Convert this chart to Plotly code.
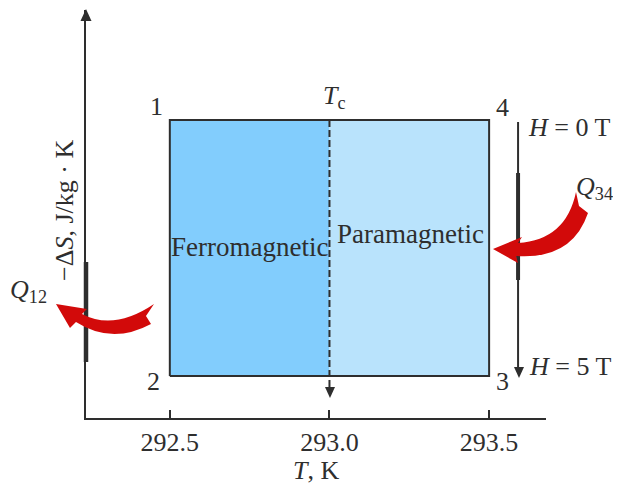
import plotly.graph_objects as go

# ---- data ----
T_ticks = [292.5, 293.0, 293.5]
T_tick_labels = ["292.5", "293.0", "293.5"]
T_left, T_c, T_right = 292.5, 293.0, 293.5
S_low, S_high = 42, 298          # arbitrary entropy-change levels (no y ticks)
regions = ["Ferromagnetic", "Paramagnetic"]
state_labels = ["1", "2", "3", "4"]
field_labels = ["<i>H</i> = 0 T", "<i>H</i> = 5 T"]
heat_labels = ["<i>Q</i><sub>12</sub>", "<i>Q</i><sub>34</sub>"]

W, H = 621, 486
OFF = 8                               # page body margin
L, TOP = 86 - OFF, 10 - OFF
R, B = W - 546 + OFF, H - 418 + OFF
x_per_px = 0.5 / 160.0
x_min = T_left - (170 - 86) * x_per_px
x_max = T_right + (546 - 489) * x_per_px
y_min, y_max = 0, 408

def X(px):
    return T_left + (px - 170) * x_per_px

def Y(py):
    return 418 - py

def PX(px):
    return (px - 86) / 460.0

def PY(py):
    return (418 - py) / 408.0

INK = "#2e2e2e"
RED = "#d20a0a"
DARKRED = "#b80404"
FONT = "Liberation Serif"

fig = go.Figure()

# rectangles
fig.add_trace(go.Scatter(x=[T_left, T_c, T_c, T_left, T_left], y=[S_low, S_low, S_high, S_high, S_low],
                         fill="toself", fillcolor="#82cdfd", line=dict(width=0), mode="lines",
                         hoverinfo="skip", showlegend=False))
fig.add_trace(go.Scatter(x=[T_c, T_right, T_right, T_c, T_c], y=[S_low, S_low, S_high, S_high, S_low],
                         fill="toself", fillcolor="#b9e3fc", line=dict(width=0), mode="lines",
                         hoverinfo="skip", showlegend=False))
fig.add_trace(go.Scatter(x=[T_left, T_right, T_right, T_left, T_left], y=[S_low, S_low, S_high, S_high, S_low],
                         mode="lines", line=dict(color=INK, width=2), hoverinfo="skip", showlegend=False))
# Curie temperature dashed line
fig.add_trace(go.Scatter(x=[T_c, T_c], y=[S_high, Y(388)], mode="lines",
                         line=dict(color=INK, width=2, dash="7px,3px"), hoverinfo="skip", showlegend=False))
# right field line
fig.add_trace(go.Scatter(x=[X(519), X(519)], y=[Y(122), Y(368)], mode="lines",
                         line=dict(color=INK, width=2), hoverinfo="skip", showlegend=False))
fig.add_trace(go.Scatter(x=[X(519), X(519)], y=[Y(173), Y(280)], mode="lines",
                         line=dict(color=INK, width=4), hoverinfo="skip", showlegend=False))

def path(pts, close=True):
    s = ""
    for cmd, coords in pts:
        s += cmd + " " + " ".join(f"{PX(coords[i]):.5f},{PY(coords[i+1]):.5f}" for i in range(0, len(coords), 2)) + " "
    return s + ("Z" if close else "")

def tri(tip_x, tip_y, direction, length=11, half=5):
    if direction == "up":
        pts = [("M", [tip_x, tip_y]), ("L", [tip_x - half, tip_y + length]), ("L", [tip_x + half, tip_y + length])]
    else:
        pts = [("M", [tip_x, tip_y]), ("L", [tip_x - half, tip_y - length]), ("L", [tip_x + half, tip_y - length])]
    return dict(type="path", path=path(pts), fillcolor=INK, line=dict(width=0), xref="paper", yref="paper", layer="above")

shapes = [
    # thick segment on y-axis
    dict(type="line", xref="paper", yref="paper", x0=PX(86), x1=PX(86), y0=PY(262), y1=PY(362),
         line=dict(color=INK, width=4.5), layer="above"),
    tri(86, 9, "up", 12, 5.5),
    tri(330, 398, "down", 11, 5),
    tri(519, 378, "down", 11, 5),
    # Q12 curved arrow
    dict(type="path", xref="paper", yref="paper", fillcolor=RED, line=dict(width=0), layer="above",
         path=path([("M", [56, 304]), ("L", [87, 309]), ("L", [82, 314]),
                    ("Q", [114, 331, 154, 304]), ("L", [146, 316]), ("L", [151, 324]),
                    ("Q", [112, 345, 76, 322]), ("L", [70, 328])])),
    # Q34 curved arrow
    dict(type="path", xref="paper", yref="paper", fillcolor=RED, line=dict(width=0), layer="above",
         path=path([("M", [493, 249]), ("L", [522, 237]), ("L", [518, 243]),
                    ("Q", [566, 240, 576, 192]), ("L", [579, 206]), ("L", [588, 213]),
                    ("Q", [572, 260, 516, 256]), ("L", [518, 263])])),
]

def ann(text, px, py, size=26, angle=0):
    return dict(text=text, x=PX(px), y=PY(py), xref="paper", yref="paper", showarrow=False,
                font=dict(family=FONT, size=size, color=INK), textangle=angle,
                xanchor="center", yanchor="middle")

annotations = [
    ann(regions[0], 249, 247, size=27),
    ann(regions[1], 410, 234, size=27),
    ann(state_labels[0], 156, 106),
    ann(state_labels[1], 153, 381),
    ann(state_labels[2], 502, 381),
    ann(state_labels[3], 502, 107),
    ann("<i>T</i><sub>c</sub>", 334, 97),
    ann(field_labels[0], 569, 128),
    ann(field_labels[1], 570, 366),
    ann(heat_labels[0], 28, 291),
    ann(heat_labels[1], 594, 188),
    ann("−Δ<i>S</i>, J/kg · K", 64, 211, angle=-90),
    ann("<i>T</i>, K", 316, 470),
]

fig.update_layout(
    width=W, height=H, margin=dict(l=L, r=R, t=TOP, b=B),
    paper_bgcolor="white", plot_bgcolor="white",
    shapes=shapes, annotations=annotations,
    xaxis=dict(range=[x_min, x_max], showgrid=False, zeroline=False, showline=True,
               linecolor=INK, linewidth=2, ticks="inside", ticklen=8, tickwidth=1.5, tickcolor=INK,
               tickvals=T_ticks, ticktext=T_tick_labels,
               tickfont=dict(family=FONT, size=26, color=INK)),
    yaxis=dict(range=[y_min, y_max], showgrid=False, zeroline=False, showline=True,
               linecolor=INK, linewidth=2, showticklabels=False, ticks=""),
)

fig.write_html("out.html")
